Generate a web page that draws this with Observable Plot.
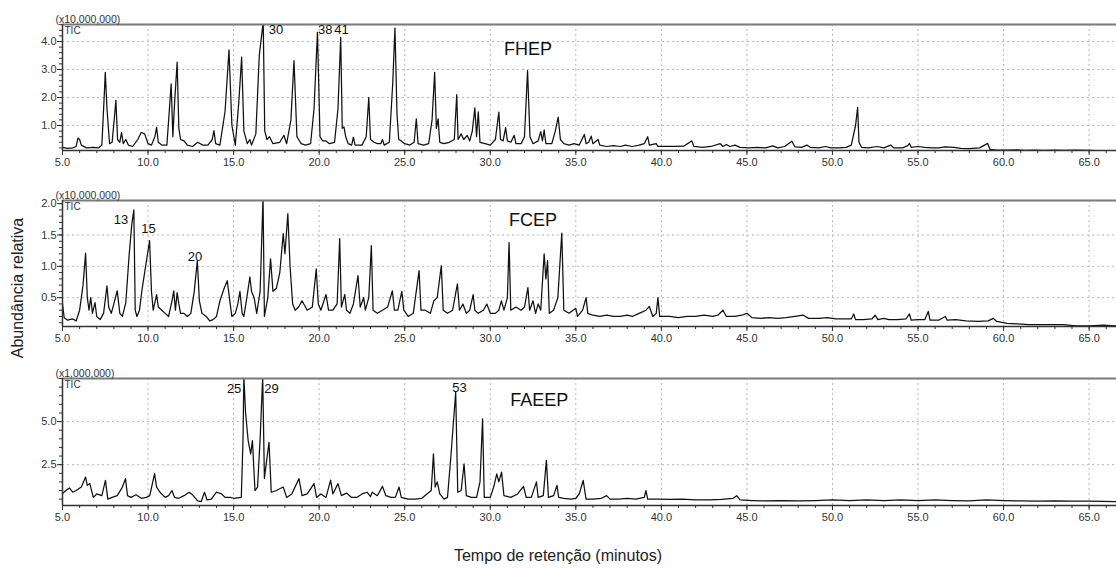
<!DOCTYPE html>
<html><head><meta charset="utf-8">
<script src="https://cdn.jsdelivr.net/npm/d3@7"></script>
<script src="https://cdn.jsdelivr.net/npm/@observablehq/plot@0.6"></script>
<style>
body{margin:0;background:#fff;font-family:"Liberation Sans",Arial,sans-serif;}
#wrap{position:relative;width:1116px;height:568px;overflow:hidden;background:#fff;}
#wrap svg{position:absolute;left:0;}
.ytitle{position:absolute;left:18px;top:288px;transform:translate(-50%,-50%) rotate(-90deg);font-size:16px;white-space:nowrap;color:#222;}
.xtitle{position:absolute;left:558px;top:556px;transform:translate(-50%,-50%);font-size:16px;white-space:nowrap;color:#222;}
</style></head><body><div id="wrap"></div>
<script>
// ---------- data ----------
const timeDomain = [5, 66.6];
const timeTicks = [5,10,15,20,25,30,35,40,45,50,55,60,65];
const timeMinor = d3.range(5, 67, 1);
const timeGrid = [10,15,20,25,30,35,40,45,50,55,60,65];

// FHEP (x10,000,000)
const fhep = [[5.0,0.22],[5.3,0.18],[5.6,0.2],[5.8,0.25],[5.9,0.55],[6.0,0.5],[6.1,0.3],[6.4,0.2],[6.8,0.22],[7.1,0.2],[7.3,0.3],[7.45,2.2],[7.5,2.9],[7.6,1.6],[7.75,0.35],[7.9,0.4],[8.05,1.4],[8.12,1.9],[8.22,0.5],[8.35,0.4],[8.45,0.75],[8.55,0.35],[8.7,0.5],[8.85,0.3],[9.1,0.25],[9.4,0.5],[9.6,0.75],[9.8,0.7],[10.0,0.35],[10.2,0.3],[10.4,0.6],[10.5,0.94],[10.6,0.4],[10.8,0.3],[11.1,0.3],[11.25,1.6],[11.35,2.49],[11.45,0.6],[11.55,1.8],[11.7,3.26],[11.8,0.9],[11.9,0.5],[12.1,0.45],[12.3,0.3],[12.6,0.25],[12.9,0.4],[13.2,0.3],[13.5,0.3],[13.75,0.5],[13.85,0.82],[13.95,0.35],[14.2,0.3],[14.5,1.5],[14.73,3.7],[14.9,1.0],[15.1,0.3],[15.3,1.8],[15.47,3.44],[15.6,0.8],[15.8,0.35],[15.95,0.5],[16.05,0.3],[16.3,0.7],[16.5,3.5],[16.73,4.7],[16.82,0.8],[16.95,0.5],[17.1,0.6],[17.3,0.35],[17.7,0.4],[17.94,0.65],[18.1,0.35],[18.35,1.2],[18.53,3.32],[18.7,0.6],[18.8,0.5],[18.95,0.35],[19.2,0.3],[19.5,0.35],[19.7,1.6],[19.9,4.33],[20.05,0.6],[20.2,0.45],[20.4,0.45],[20.6,0.35],[20.9,0.4],[21.1,1.6],[21.26,4.15],[21.35,0.9],[21.45,0.95],[21.55,0.6],[21.7,0.35],[21.9,0.3],[22.0,0.58],[22.1,0.3],[22.5,0.3],[22.75,0.6],[22.9,2.0],[23.0,0.5],[23.2,0.4],[23.4,0.35],[23.6,0.35],[23.7,0.5],[23.8,0.3],[24.1,0.4],[24.3,2.5],[24.43,4.48],[24.55,1.4],[24.65,0.5],[24.8,0.45],[25.0,0.35],[25.3,0.3],[25.55,0.4],[25.68,1.24],[25.78,0.35],[26.1,0.3],[26.4,0.35],[26.6,1.2],[26.75,2.9],[26.85,0.9],[26.95,1.24],[27.05,0.4],[27.3,0.35],[27.6,0.4],[27.9,0.5],[28.04,2.1],[28.12,0.5],[28.3,0.7],[28.45,0.5],[28.65,0.65],[28.8,0.45],[28.95,0.8],[29.1,1.63],[29.2,0.6],[29.3,1.49],[29.4,0.4],[29.7,0.35],[30.0,0.3],[30.3,0.5],[30.5,1.48],[30.6,0.5],[30.75,0.45],[30.9,0.92],[31.0,0.45],[31.2,0.4],[31.4,0.65],[31.5,0.35],[31.8,0.35],[32.0,0.6],[32.18,2.96],[32.32,0.6],[32.5,0.35],[32.8,0.45],[32.95,0.78],[33.05,0.45],[33.15,0.84],[33.25,0.35],[33.6,0.35],[33.8,0.8],[33.97,1.3],[34.1,0.5],[34.3,0.35],[34.6,0.3],[34.9,0.35],[35.2,0.3],[35.5,0.68],[35.6,0.35],[35.75,0.4],[35.9,0.62],[36.0,0.35],[36.3,0.5],[36.4,0.3],[36.8,0.25],[37.2,0.28],[37.6,0.25],[37.9,0.3],[38.3,0.25],[38.7,0.3],[39.0,0.35],[39.2,0.6],[39.3,0.3],[39.7,0.35],[39.8,0.25],[40.3,0.25],[40.8,0.25],[41.3,0.26],[41.78,0.45],[41.9,0.25],[42.4,0.22],[42.9,0.25],[43.44,0.35],[43.6,0.25],[43.8,0.32],[44.0,0.25],[44.3,0.3],[44.6,0.22],[45.1,0.2],[45.6,0.22],[46.1,0.2],[46.5,0.27],[46.8,0.2],[47.2,0.25],[47.63,0.44],[47.8,0.24],[48.2,0.22],[48.5,0.3],[48.7,0.22],[49.2,0.2],[49.6,0.25],[49.9,0.2],[50.4,0.2],[50.8,0.22],[51.1,0.3],[51.35,1.0],[51.47,1.65],[51.55,0.4],[51.7,0.22],[52.1,0.2],[52.6,0.25],[53.0,0.2],[53.4,0.3],[53.6,0.2],[54.1,0.2],[54.4,0.28],[54.5,0.36],[54.6,0.22],[55.0,0.25],[55.4,0.22],[55.8,0.2],[56.2,0.2],[56.6,0.24],[57.1,0.22],[57.5,0.18],[58.0,0.17],[58.6,0.2],[59.07,0.36],[59.2,0.15],[59.6,0.12],[60.2,0.12],[60.8,0.13],[61.3,0.11],[61.8,0.12],[62.4,0.11],[63.0,0.12],[63.5,0.11],[64.2,0.12],[65.0,0.11],[65.5,0.1],[66.6,0.1]];

// FCEP (x10,000,000)
const fcep = [[5.0,0.4],[5.1,0.18],[5.3,0.14],[5.6,0.16],[5.8,0.13],[6.0,0.3],[6.2,0.7],[6.35,1.21],[6.45,0.5],[6.55,0.3],[6.65,0.5],[6.75,0.25],[6.9,0.42],[7.0,0.2],[7.2,0.15],[7.4,0.25],[7.6,0.69],[7.7,0.35],[7.85,0.25],[8.0,0.4],[8.2,0.61],[8.35,0.25],[8.5,0.2],[8.7,0.42],[8.9,1.2],[9.05,1.67],[9.17,1.9],[9.25,0.3],[9.35,0.2],[9.5,0.3],[9.65,0.63],[9.8,0.9],[10.09,1.41],[10.2,0.6],[10.3,0.3],[10.5,0.55],[10.6,0.35],[10.8,0.3],[11.0,0.25],[11.2,0.2],[11.4,0.45],[11.5,0.61],[11.6,0.3],[11.7,0.58],[11.8,0.4],[11.9,0.25],[12.1,0.25],[12.3,0.2],[12.5,0.25],[12.7,0.6],[12.88,1.09],[13.0,0.45],[13.15,0.25],[13.4,0.2],[13.6,0.13],[13.8,0.15],[14.0,0.2],[14.2,0.45],[14.45,0.65],[14.63,0.77],[14.8,0.4],[14.9,0.2],[15.1,0.25],[15.25,0.4],[15.37,0.6],[15.5,0.25],[15.6,0.2],[15.8,0.55],[15.95,0.83],[16.05,0.6],[16.2,0.5],[16.35,0.25],[16.55,0.6],[16.72,2.1],[16.8,0.2],[17.0,0.5],[17.16,1.12],[17.3,0.6],[17.5,0.65],[17.7,0.9],[17.9,1.52],[18.0,1.2],[18.17,1.84],[18.3,1.0],[18.45,0.4],[18.6,0.3],[18.8,0.35],[19.0,0.45],[19.3,0.3],[19.6,0.35],[19.83,0.96],[19.95,0.4],[20.1,0.3],[20.4,0.55],[20.55,0.3],[20.8,0.3],[21.05,0.4],[21.2,1.44],[21.3,0.35],[21.5,0.55],[21.6,0.3],[21.8,0.25],[22.0,0.4],[22.27,0.85],[22.4,0.35],[22.6,0.5],[22.7,0.3],[22.9,0.5],[23.05,1.33],[23.15,0.3],[23.4,0.25],[23.7,0.3],[24.0,0.35],[24.28,0.61],[24.4,0.3],[24.6,0.3],[24.83,0.6],[24.95,0.3],[25.2,0.2],[25.5,0.25],[25.84,0.93],[25.95,0.3],[26.2,0.3],[26.5,0.25],[26.7,0.45],[26.9,0.5],[27.14,1.01],[27.25,0.3],[27.5,0.25],[27.8,0.3],[28.08,0.72],[28.2,0.3],[28.4,0.4],[28.6,0.25],[28.8,0.3],[29.0,0.55],[29.1,0.3],[29.3,0.25],[29.6,0.3],[29.8,0.4],[30.0,0.25],[30.3,0.25],[30.5,0.3],[30.65,0.45],[30.8,0.3],[31.0,0.5],[31.1,1.38],[31.2,0.3],[31.5,0.35],[31.8,0.3],[32.0,0.35],[32.2,0.66],[32.3,0.3],[32.5,0.45],[32.65,0.25],[32.8,0.4],[32.95,0.3],[33.15,1.2],[33.25,0.8],[33.35,1.09],[33.45,0.25],[33.7,0.3],[33.95,0.5],[34.18,1.53],[34.3,0.3],[34.6,0.25],[35.0,0.33],[35.1,0.2],[35.4,0.3],[35.6,0.5],[35.7,0.25],[36.0,0.22],[36.4,0.2],[36.8,0.22],[37.2,0.2],[37.6,0.2],[38.0,0.22],[38.3,0.2],[38.7,0.25],[39.1,0.3],[39.3,0.36],[39.5,0.2],[39.7,0.25],[39.8,0.5],[39.9,0.2],[40.5,0.2],[41.0,0.18],[41.5,0.2],[42.0,0.2],[42.5,0.22],[43.0,0.2],[43.3,0.22],[43.6,0.3],[43.8,0.2],[44.3,0.2],[44.7,0.22],[45.0,0.25],[45.3,0.18],[45.8,0.17],[46.3,0.18],[46.8,0.17],[47.3,0.18],[47.8,0.2],[48.3,0.22],[48.6,0.17],[49.2,0.17],[49.7,0.18],[50.2,0.16],[50.7,0.16],[51.1,0.16],[51.24,0.24],[51.35,0.15],[51.8,0.15],[52.3,0.16],[52.5,0.22],[52.65,0.15],[53.0,0.17],[53.3,0.15],[53.8,0.15],[54.3,0.16],[54.5,0.24],[54.6,0.14],[55.0,0.15],[55.4,0.15],[55.6,0.28],[55.7,0.14],[56.2,0.14],[56.6,0.2],[56.7,0.14],[57.2,0.15],[57.8,0.13],[58.5,0.12],[59.1,0.13],[59.4,0.17],[59.6,0.12],[60.2,0.09],[60.8,0.08],[61.5,0.07],[62.3,0.07],[63.1,0.07],[63.5,0.07],[64.2,0.05],[65.0,0.05],[65.8,0.06],[66.6,0.05]];

// FAEEP (x1,000,000)
const faeep = [[5.0,0.82],[5.2,1.0],[5.4,1.15],[5.6,0.9],[5.8,1.0],[6.1,1.2],[6.35,1.78],[6.45,1.3],[6.6,1.4],[6.8,0.6],[7.0,0.8],[7.3,0.7],[7.51,1.59],[7.65,0.5],[7.9,0.6],[8.2,0.7],[8.5,1.2],[8.68,1.69],[8.8,0.7],[9.0,0.6],[9.3,0.75],[9.6,0.55],[9.9,0.6],[10.1,0.7],[10.38,1.98],[10.5,1.2],[10.7,0.9],[11.0,0.6],[11.2,0.7],[11.4,1.0],[11.55,0.6],[11.8,0.55],[12.1,0.7],[12.4,0.9],[12.6,0.75],[12.9,0.4],[13.1,0.35],[13.3,0.9],[13.45,0.45],[13.7,0.5],[14.0,0.9],[14.3,0.8],[14.5,0.6],[14.8,0.6],[15.0,0.55],[15.45,0.6],[15.55,4.0],[15.6,7.6],[15.7,5.5],[15.85,3.9],[16.0,3.13],[16.1,3.9],[16.25,1.0],[16.4,1.2],[16.55,4.0],[16.7,7.6],[16.8,1.7],[16.9,2.5],[17.07,3.8],[17.2,0.9],[17.5,1.0],[17.9,1.2],[18.1,0.6],[18.4,0.8],[18.82,1.69],[19.0,0.7],[19.3,0.8],[19.7,1.4],[19.85,0.6],[20.1,0.8],[20.4,0.6],[20.67,1.6],[20.8,0.8],[21.1,1.4],[21.3,0.7],[21.6,0.85],[21.9,0.6],[22.2,0.6],[22.5,0.8],[22.8,0.9],[23.0,0.65],[23.1,0.9],[23.4,0.7],[23.7,1.24],[23.9,0.7],[24.2,0.6],[24.45,0.6],[24.67,1.2],[24.8,0.6],[25.2,0.5],[25.6,0.5],[26.0,0.55],[26.3,0.8],[26.55,1.0],[26.68,3.13],[26.78,1.2],[26.9,1.5],[27.05,0.8],[27.3,0.5],[27.5,0.6],[27.7,3.0],[27.98,6.7],[28.1,0.9],[28.3,1.0],[28.47,2.55],[28.6,0.7],[28.9,0.6],[29.2,0.6],[29.4,1.5],[29.55,5.16],[29.65,0.6],[30.0,0.6],[30.2,1.2],[30.38,1.97],[30.5,1.5],[30.66,2.07],[30.8,0.7],[31.2,0.6],[31.6,0.8],[31.94,1.24],[32.1,0.6],[32.4,0.6],[32.7,1.5],[32.8,0.6],[33.1,0.7],[33.28,2.75],[33.4,0.6],[33.7,0.7],[33.9,1.3],[34.0,0.6],[34.3,0.55],[34.7,0.5],[35.0,0.55],[35.2,0.8],[35.43,1.59],[35.6,0.5],[36.0,0.5],[36.5,0.55],[36.8,0.7],[37.0,0.5],[37.5,0.5],[38.0,0.55],[38.5,0.5],[39.0,0.6],[39.1,1.0],[39.2,0.5],[39.8,0.5],[40.5,0.48],[41.2,0.5],[42.0,0.45],[42.8,0.45],[43.5,0.48],[44.2,0.55],[44.4,0.7],[44.6,0.45],[45.3,0.42],[46.0,0.4],[47.0,0.42],[48.0,0.4],[49.0,0.42],[50.0,0.45],[51.0,0.42],[52.0,0.45],[53.0,0.42],[54.0,0.45],[55.0,0.42],[56.0,0.45],[57.0,0.42],[58.0,0.4],[59.0,0.45],[60.0,0.42],[61.0,0.4],[62.0,0.38],[63.0,0.4],[64.0,0.38],[65.0,0.38],[66.6,0.36]];

// axis ticks per panel
const fhepTicks = [1.0, 2.0, 3.0, 4.0];
const fcepTicks = [0.5, 1.0, 1.5, 2.0];
const faeepTicks = [2.5, 5.0];

// peak labels: [label, time, abundance]
const fhepLabels = [["30",17.48,4.43],["38",20.35,4.43],["41",21.3,4.43]];
const fcepLabels = [["13",8.42,1.74],["15",10.03,1.6],["20",12.75,1.15]];
const faeepLabels = [["25",15.03,6.9],["29",17.22,6.9],["53",28.2,6.95]];
// sample names: [name, time, abundance]
const fhepName = [["FHEP",32.2,3.71]];
const fcepName = [["FCEP",32.5,1.73]];
const faeepName = [["FAEEP",32.87,6.21]];

// ---------- drawing ----------
const FONT = '"Liberation Sans", Arial, sans-serif';
const wrap = document.getElementById("wrap");

function panel(cfg){
  const [y0, y1] = cfg.yDomain;
  const svg = Plot.plot({
    width: 1116, height: cfg.height,
    marginLeft: 62, marginRight: 0, marginTop: cfg.marginTop, marginBottom: 24,
    style: {fontFamily: FONT, fontSize: "11px", color: "#333", background: "transparent", overflow: "visible"},
    x: {domain: timeDomain},
    y: {domain: cfg.yDomain},
    marks: [
      Plot.gridX(timeGrid, {stroke: "#b8b8b8", strokeOpacity: 1, strokeDasharray: "2,3"}),
      Plot.gridY(cfg.grid, {stroke: "#b8b8b8", strokeOpacity: 1, strokeDasharray: "2,3"}),
      Plot.line(cfg.data, {x: d => d[0], y: d => d[1], stroke: "#111", strokeWidth: 1.25, clip: true}),
      Plot.ruleY([y1], {stroke: "#7a7a7a", strokeWidth: 2}),
      Plot.ruleY([y0], {stroke: "#333", strokeWidth: 1.5}),
      Plot.ruleX([5], {stroke: "#333", strokeWidth: 1.5}),
      Plot.axisX(timeTicks, {tickSize: 5, tickPadding: 3, tickFormat: d => d.toFixed(1), label: null, stroke: "#333", fill: "#333", fontSize: 11}),
      Plot.axisX(timeMinor, {tickSize: 3, tickFormat: () => "", label: null, stroke: "#333"}),
      Plot.axisY(cfg.yTicks, {tickSize: 5, tickPadding: 1, tickFormat: d => d.toFixed(1), label: null, stroke: "#333", fill: "#333", fontSize: 11}),
      Plot.axisY(cfg.yMinor, {tickSize: 3, tickFormat: () => "", label: null, stroke: "#333"}),
      Plot.text([cfg.mult], {frameAnchor: "top-left", text: d => d, dx: -7, dy: -2, lineAnchor: "bottom", textAnchor: "start", fontSize: 10.5, fill: "#333"}),
      Plot.text(["TIC"], {frameAnchor: "top-left", text: d => d, dx: 2, dy: 2, lineAnchor: "top", textAnchor: "start", fontSize: 10, fill: "#333"}),
      Plot.text(cfg.labels, {x: d => d[1], y: d => d[2], text: d => d[0], fontSize: 13, fill: "#111", textAnchor: "middle"}),
      Plot.text(cfg.name, {x: d => d[1], y: d => d[2], text: d => d[0], fontSize: 18, fill: "#111", textAnchor: "middle"})
    ]
  });
  svg.style.top = cfg.top + "px";
  wrap.appendChild(svg);
}

panel({data: fhep, yDomain: [0.107, 4.607], yTicks: fhepTicks, grid: fhepTicks,
  yMinor: d3.range(0.2, 4.61, 0.2), top: 0, marginTop: 24, height: 174,
  mult: "(x10,000,000)", labels: fhepLabels, name: fhepName});
panel({data: fcep, yDomain: [0.04, 2.05], yTicks: fcepTicks, grid: [0.5, 1.0, 1.5],
  yMinor: d3.range(0.1, 2.01, 0.1), top: 178, marginTop: 22, height: 172,
  mult: "(x10,000,000)", labels: fcepLabels, name: fcepName});
panel({data: faeep, yDomain: [0.13, 7.5], yTicks: faeepTicks, grid: faeepTicks,
  yMinor: d3.range(0.5, 7.51, 0.5), top: 356, marginTop: 22, height: 173,
  mult: "(x1,000,000)", labels: faeepLabels, name: faeepName});

const yt = document.createElement("div"); yt.className = "ytitle"; yt.textContent = "Abundância relativa"; wrap.appendChild(yt);
const xt = document.createElement("div"); xt.className = "xtitle"; xt.textContent = "Tempo de retenção (minutos)"; wrap.appendChild(xt);
</script></body></html>
